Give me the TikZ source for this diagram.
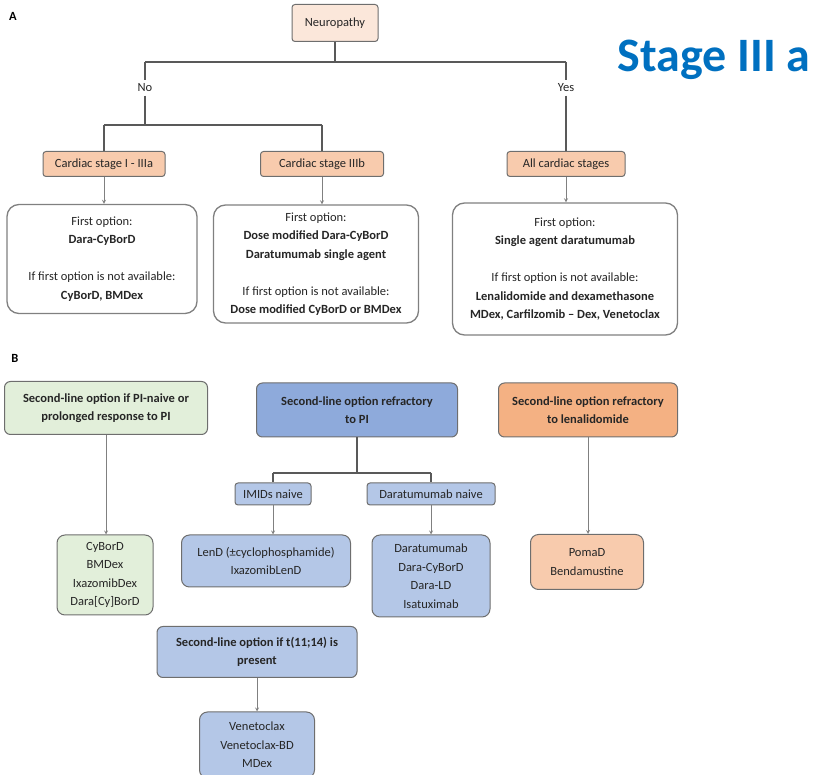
\documentclass[tikz,border=0pt]{standalone}
\usepackage{fontspec}
\setmainfont{Carlito}
\definecolor{txt}{HTML}{262626}
\definecolor{edge}{HTML}{6E6E6E}
\definecolor{barc}{HTML}{595959}
\definecolor{pale}{HTML}{FBE7DA}
\definecolor{peach}{HTML}{F8CBAD}
\definecolor{orng}{HTML}{F4B183}
\definecolor{grn}{HTML}{E2EFDA}
\definecolor{blu}{HTML}{8EAADB}
\definecolor{lblu}{HTML}{B4C7E7}
\definecolor{stageblue}{HTML}{0070C0}

\begin{document}
\begin{tikzpicture}[x=1pt,y=-1pt,>=stealth,
  font=\fontsize{12.5}{18.5}\selectfont,
  wh/.style 2 args={minimum width=#1,minimum height=#2},
  bx/.style={draw=edge,line width=1pt,rounded corners=3pt,align=center,inner sep=0pt,text=txt},
  opt/.style={bx,fill=white,draw=gray,line width=1.3pt,rounded corners=12pt},
  hd/.style={bx,rounded corners=6pt,font=\fontsize{12.5}{18.5}\selectfont\bfseries},
  lb/.style={bx,rounded corners=8pt},
  bar/.style={draw=barc,line width=2.5pt},
  stem/.style={draw=barc,line width=1.2pt},
  arr/.style={draw=gray,line width=0.8pt,->}]
 \useasboundingbox (0,0) rectangle (815,775);
 % A
 \begin{scope}
  \node[font=\fontsize{12.5}{14}\selectfont\bfseries] (labA) at (13,16) {A};
  \node[text=stageblue,font=\fontsize{48}{48}\selectfont\bfseries] (stage) at (714,60) {Stage III a};
  \node[bx,fill=pale,wh={86}{37}] (neuro) at (335,23) {Neuropathy};
  \node[text=txt] (no) at (145,88) {No};
  \node[text=txt] (yes) at (566,88) {Yes};
  \coordinate (tL) at (145,62); \coordinate (tR) at (566,62);
  \coordinate (bL) at (104,125); \coordinate (bR) at (322,125);
  \draw[bar] (tL) -- (tR);
  \draw[stem] (neuro.south) -- (neuro.south |- tL);
  \draw[stem] (tL) -- (no.north); \draw[stem] (tR) -- (yes.north);
  \draw[stem] (no.south) -- (no.south |- bL);
  \draw[bar] (bL) -- (bR);
  \node[bx,fill=peach,wh={122}{25}] (c1) at (104,164) {Cardiac stage I - IIIa};
  \node[bx,fill=peach,wh={123}{25}] (c2) at (322,164) {Cardiac stage IIIb};
  \node[bx,fill=peach,wh={118}{25}] (c3) at (566,164) {All cardiac stages};
  \draw[stem] (bL) -- (c1.north); \draw[stem] (bR) -- (c2.north);
  \draw[stem] (yes.south) -- (c3.north);
  \node[opt,wh={190}{109}] (o1) at (102,259) {First option:\\\textbf{Dara-CyBorD}\\[18.5pt]If first option is not available:\\\textbf{CyBorD, BMDex}};
  \node[opt,wh={205}{118}] (o2) at (316,264) {First option:\\\textbf{Dose modified Dara-CyBorD}\\\textbf{Daratumumab single agent}\\[18.5pt]If first option is not available:\\\textbf{Dose modified CyBorD or BMDex}};
  \node[opt,wh={225}{132}] (o3) at (565,269) {First option:\\\textbf{Single agent daratumumab}\\[18.5pt]If first option is not available:\\\textbf{Lenalidomide and dexamethasone}\\\textbf{MDex, Carfilzomib – Dex, Venetoclax}};
  \foreach \c/\o in {c1/o1,c2/o2,c3/o3}{ \draw[arr] (\c.south) -- (\c.south |- \o.north); }
 \end{scope}
 % B
 \begin{scope}
  \node[font=\fontsize{12.5}{14}\selectfont\bfseries] (labB) at (15,358) {B};
  \node[hd,fill=grn,wh={203}{53}] (g1) at (106,408) {Second-line option if PI-naive or\\prolonged response to PI};
  \node[hd,fill=blu,wh={201}{54}] (b1) at (357,410) {Second-line option refractory\\to PI};
  \node[hd,fill=orng,wh={179}{54}] (r1) at (588,410) {Second-line option refractory\\to lenalidomide};
  \node[bx,fill=lblu,wh={76}{22}] (bi) at (273,494) {IMIDs naive};
  \node[bx,fill=lblu,wh={128}{22}] (bd) at (431,494) {Daratumumab naive};
  \coordinate (mL) at (273,473); \coordinate (mR) at (431,473);
  \draw[stem] (b1.south) -- (b1.south |- mL);
  \draw[bar,line width=2pt] (mL) -- (mR);
  \draw[stem] (mL) -- (bi.north); \draw[stem] (mR) -- (bd.north);
  \node[lb,fill=grn,wh={96}{80}] (g2) at (105,575) {CyBorD\\BMDex\\IxazomibDex\\Dara[Cy]BorD};
  \node[lb,fill=lblu,wh={169}{52}] (bl) at (266,561) {LenD (±cyclophosphamide)\\IxazomibLenD};
  \node[lb,fill=lblu,wh={118}{82}] (bdb) at (431,576) {Daratumumab\\Dara-CyBorD\\Dara-LD\\Isatuximab};
  \node[lb,fill=peach,wh={113}{55}] (rb) at (587,562) {PomaD\\Bendamustine};
  \node[hd,fill=lblu,wh={200}{51}] (bt) at (257,652) {Second-line option if t(11;14) is\\present};
  \node[lb,fill=lblu,wh={115}{66}] (bv) at (257,745) {Venetoclax\\Venetoclax-BD\\MDex};
  \draw[arr] (g1.south) -- (g1.south |- g2.north);
  \draw[arr] (bi.south) -- (bi.south |- bl.north);
  \draw[arr] (bd.south) -- (bdb.north);
  \draw[arr] (r1.south) -- (r1.south |- rb.north);
  \draw[arr] (bt.south) -- (bv.north);
 \end{scope}
\end{tikzpicture}
\end{document}
